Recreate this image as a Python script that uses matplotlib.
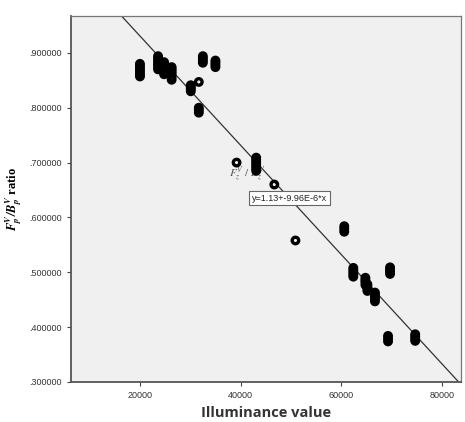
import matplotlib.pyplot as plt
import numpy as np

# illuminance value (x) and F/B ratio (y)
illum = [20000, 20000, 20000, 20000, 20000, 20000, 20000,
         23600, 23600, 23600, 23600, 23600, 23600, 23600,
         24800, 24800, 24800, 24800, 24800, 24800,
         26300, 26300, 26300, 26300, 26300, 26300,
         30100, 30100, 30100, 30100,
         31700,
         31700, 31700, 31700,
         32500, 32500, 32500, 32500,
         35000, 35000, 35000, 35000,
         39200,
         43100, 43100, 43100, 43100, 43100, 43100, 43100,
         46700,
         50900,
         60600, 60600, 60600,
         62400, 62400, 62400, 62400, 62400,
         64800, 64800, 64800, 64800,
         65200, 65200, 65200, 65200,
         66700, 66700, 66700, 66700, 66700,
         69700, 69700, 69700, 69700,
         69300, 69300, 69300,
         74700, 74700, 74700, 74700]
ratio = [0.880, 0.876, 0.872, 0.868, 0.864, 0.860, 0.857,
         0.894, 0.890, 0.886, 0.882, 0.878, 0.874, 0.870,
         0.883, 0.879, 0.875, 0.870, 0.865, 0.861,
         0.874, 0.870, 0.866, 0.862, 0.856, 0.851,
         0.841, 0.837, 0.834, 0.830,
         0.847,
         0.800, 0.796, 0.791,
         0.894, 0.890, 0.886, 0.882,
         0.886, 0.882, 0.878, 0.874,
         0.700,
         0.709, 0.705, 0.701, 0.697, 0.693, 0.689, 0.685,
         0.660,
         0.558,
         0.584, 0.579, 0.574,
         0.508, 0.504, 0.500, 0.496, 0.492,
         0.490, 0.486, 0.482, 0.477,
         0.478, 0.474, 0.470, 0.466,
         0.463, 0.459, 0.455, 0.451, 0.447,
         0.509, 0.505, 0.501, 0.497,
         0.384, 0.379, 0.374,
         0.387, 0.383, 0.379, 0.375]

intercept = 1.13
slope = -9.96e-6
yticks = [0.3, 0.4, 0.5, 0.6, 0.7, 0.8, 0.9]
xticks = [20000, 40000, 60000, 80000]

plt.rcParams['mathtext.fontset'] = 'stix'

fig = plt.figure(figsize=(4.65, 4.22), dpi=100)
ax = fig.add_axes([0.1527, 0.0948, 0.8387, 0.867])
ax.set_facecolor('#f0f0f0')

xmin, xmax = 6300, 83800
ax.set_xlim(xmin, xmax)
ax.set_ylim(0.3, 0.967)

xl = np.array([xmin, xmax])
ax.plot(xl, intercept + slope * xl, color='#333333', lw=0.9, zorder=2)

ax.scatter(illum, ratio, s=22, facecolors='none', edgecolors='black',
           linewidths=2.4, zorder=3)

ax.text(37600, 0.68, r'$F_z^V\ /\ B_z^V$', fontsize=8, color='#555555',
        ha='left', va='center', zorder=2)

ax.text(49700, 0.635, 'y=1.13+-9.96E-6*x', fontsize=6.5, color='#222222',
        family='Liberation Sans', ha='center', va='center', zorder=4,
        bbox=dict(boxstyle='square,pad=0.3', fc='white', ec='#666666', lw=0.8))

ax.set_yticks(yticks)
ax.set_yticklabels(['.%06d' % round(v * 1e6) for v in yticks])
ax.set_xticks(xticks)
ax.set_xticklabels([str(v) for v in xticks])
ax.tick_params(labelsize=6.5, labelcolor='#333333', color='#444444',
               length=3, width=0.8, direction='out')
for lab in ax.get_xticklabels() + ax.get_yticklabels():
    lab.set_family('Liberation Sans')

for side in ['left', 'bottom']:
    ax.spines[side].set_color('#555555')
    ax.spines[side].set_linewidth(1.3)
for side in ['top', 'right']:
    ax.spines[side].set_color('#777777')
    ax.spines[side].set_linewidth(0.9)

ax.set_ylabel(r'$\mathbfit{F_p^V/B_p^V}$ ratio', fontsize=9, fontweight='bold',
              family='Liberation Serif', labelpad=4)
ax.set_xlabel('Illuminance value', fontsize=10.5, fontweight='bold',
              family='Open Sans', color='#333333', labelpad=4)

fig.savefig('out.png', dpi=100)
